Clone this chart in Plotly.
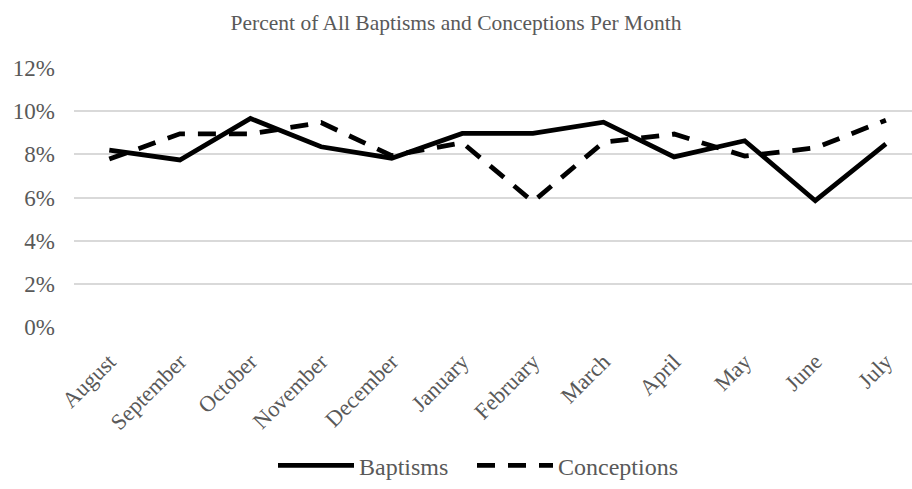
import plotly.graph_objects as go

# Monthly share of all baptisms and conceptions (percent)
months = ["August", "September", "October", "November", "December", "January",
          "February", "March", "April", "May", "June", "July"]
baptisms = [8.19, 7.74, 9.66, 8.35, 7.82, 8.97, 8.97, 9.49, 7.88, 8.63, 5.85, 8.48]
conceptions = [7.78, 8.95, 8.95, 9.47, 7.94, 8.54, 5.81, 8.56, 8.94, 7.92, 8.30, 9.58]
y_ticks = [0, 2, 4, 6, 8, 10, 12]
y_tick_text = [f"{v}%" for v in y_ticks]

FONT = "Liberation Serif"
GRAY = "#595959"

fig = go.Figure()
fig.add_trace(go.Scatter(
    x=months, y=baptisms, name="Baptisms", mode="lines",
    line=dict(color="black", width=4.8), legend="legend",
))
fig.add_trace(go.Scatter(
    x=months, y=conceptions, name="Conceptions", mode="lines",
    line=dict(color="black", width=4.8, dash="18px,13px"), legend="legend2",
))

legend_style = dict(orientation="h", xanchor="left", y=-0.536, yanchor="middle",
                    font=dict(family=FONT, size=24, color=GRAY), itemwidth=76)

fig.update_layout(
    width=912, height=489,
    margin=dict(l=74, r=0, t=68, b=156),
    paper_bgcolor="white", plot_bgcolor="white",
    font=dict(family=FONT, color=GRAY, size=22),
    title=dict(text="Percent of All Baptisms and Conceptions Per Month",
               x=0.5, xanchor="center", y=0.955, yanchor="middle",
               font=dict(family=FONT, size=21.5, color=GRAY)),
    showlegend=True,
    legend=dict(x=(273 - 74) / 838, **legend_style),
    legend2=dict(x=(472 - 74) / 838, **legend_style),
)
fig.update_xaxes(
    type="category", range=[-0.5, 11.37], showgrid=False, zeroline=False,
    showline=False, tickangle=-45, ticks="", ticklabelstandoff=16,
    tickfont=dict(family=FONT, size=22.5, color=GRAY),
)
fig.update_yaxes(
    range=[0, 12], tickvals=y_ticks, ticktext=y_tick_text,
    showgrid=True, gridcolor="#d9d9d9", gridwidth=1.5, zeroline=False,
    showline=False, ticks="", ticklabelstandoff=18,
    tickfont=dict(family=FONT, size=23, color=GRAY),
)

fig.write_html("out.html")
